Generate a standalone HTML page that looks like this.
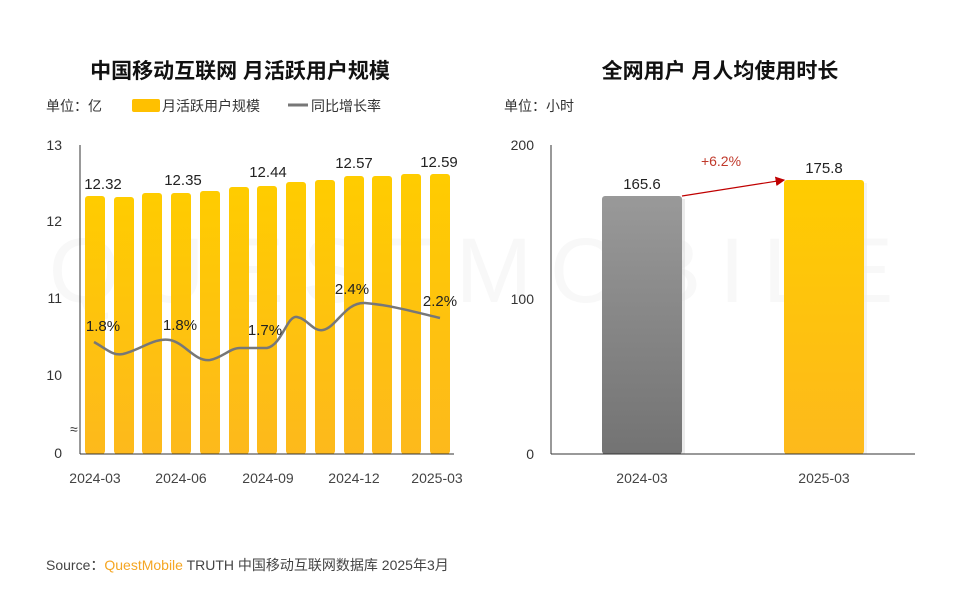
<!DOCTYPE html>
<html><head><meta charset="utf-8"><style>
body{margin:0;background:#fff;}
svg text{font-family:"Liberation Sans","Noto Sans CJK SC",sans-serif;}
</style></head><body>
<svg width="960" height="588" viewBox="0 0 960 588" xmlns="http://www.w3.org/2000/svg">
<defs>
<linearGradient id="yg" x1="0" y1="0" x2="0" y2="1"><stop offset="0" stop-color="#ffcc00"/><stop offset="1" stop-color="#fdb91c"/></linearGradient>
<linearGradient id="gg" x1="0" y1="0" x2="0" y2="1"><stop offset="0" stop-color="#999"/><stop offset="1" stop-color="#737373"/></linearGradient>
<marker id="ar" markerWidth="8" markerHeight="8" refX="7" refY="4" orient="auto"><path d="M0,0 L8,4 L0,8z" fill="#c00000"/></marker>
</defs>
<rect width="960" height="588" fill="#fff"/>
<text x="480" y="302" font-size="92" fill="#f8f8f8" text-anchor="middle" letter-spacing="18">QUESTMOBILE</text>
<text x="240" y="78" font-size="21" font-weight="bold" text-anchor="middle" fill="#111">中国移动互联网 月活跃用户规模</text>
<text x="720" y="78" font-size="21" font-weight="bold" text-anchor="middle" fill="#111">全网用户 月人均使用时长</text>
<text x="46" y="111" font-size="14" fill="#333">单位：亿</text>
<rect x="132" y="99" width="28" height="13" rx="2" fill="#ffc000"/>
<text x="162" y="111" font-size="14" fill="#333">月活跃用户规模</text>
<line x1="288" y1="105" x2="308" y2="105" stroke="#777" stroke-width="3"/>
<text x="311" y="111" font-size="14" fill="#333">同比增长率</text>
<text x="504" y="111" font-size="14" fill="#333">单位：小时</text>
<g font-size="14" fill="#333">
<text x="62" y="150" text-anchor="end">13</text><text x="62" y="226" text-anchor="end">12</text>
<text x="62" y="303" text-anchor="end">11</text><text x="62" y="380" text-anchor="end">10</text>
<text x="62" y="458" text-anchor="end">0</text>
</g>
<text x="70" y="434" font-size="14" fill="#333">≈</text>
<g fill="url(#yg)">
<rect x="85" y="196" width="20" height="258" rx="3"/>
<rect x="114" y="197" width="20" height="257" rx="3"/>
<rect x="142" y="193" width="20" height="261" rx="3"/>
<rect x="171" y="193" width="20" height="261" rx="3"/>
<rect x="200" y="191" width="20" height="263" rx="3"/>
<rect x="229" y="187" width="20" height="267" rx="3"/>
<rect x="257" y="186" width="20" height="268" rx="3"/>
<rect x="286" y="182" width="20" height="272" rx="3"/>
<rect x="315" y="180" width="20" height="274" rx="3"/>
<rect x="344" y="176" width="20" height="278" rx="3"/>
<rect x="372" y="176" width="20" height="278" rx="3"/>
<rect x="401" y="174" width="20" height="280" rx="3"/>
<rect x="430" y="174" width="20" height="280" rx="3"/>
</g>
<line x1="80" y1="145" x2="80" y2="454" stroke="#333"/>
<line x1="80" y1="454" x2="454" y2="454" stroke="#333"/>
<path d="M94,342 C108,350 113,356 123,354 C140,350 155,337 170,340 C185,343 195,362 210,360 C222,358 230,348 240,348 L267,348 C282,345 287,315 297,317 C308,319 313,332 323,330 C337,327 345,302 365,303 C390,305 415,312 440,318" fill="none" stroke="#777" stroke-width="2.5"/>
<g font-size="15" fill="#222" text-anchor="middle">
<text x="103" y="189">12.32</text><text x="183" y="185">12.35</text><text x="268" y="177">12.44</text>
<text x="354" y="168">12.57</text><text x="439" y="167">12.59</text>
<text x="103" y="331">1.8%</text><text x="180" y="330">1.8%</text><text x="265" y="335">1.7%</text>
<text x="352" y="294">2.4%</text><text x="440" y="306">2.2%</text>
</g>
<g font-size="14" fill="#444" text-anchor="middle">
<text x="95" y="483">2024-03</text><text x="181" y="483">2024-06</text><text x="268" y="483">2024-09</text>
<text x="354" y="483">2024-12</text><text x="437" y="483">2025-03</text>
</g>
<g font-size="14" fill="#333">
<text x="534" y="150" text-anchor="end">200</text><text x="534" y="304" text-anchor="end">100</text>
<text x="534" y="459" text-anchor="end">0</text>
</g>
<rect x="605" y="199" width="80" height="255" fill="#ddd" opacity="0.6"/>
<rect x="602" y="196" width="80" height="258" rx="3" fill="url(#gg)"/>
<rect x="787" y="183" width="80" height="271" fill="#eee" opacity="0.7"/>
<rect x="784" y="180" width="80" height="274" rx="3" fill="url(#yg)"/>
<line x1="551" y1="145" x2="551" y2="454" stroke="#333"/>
<line x1="551" y1="454" x2="915" y2="454" stroke="#333"/>
<line x1="682" y1="196" x2="784" y2="180" stroke="#c00000" stroke-width="1.2" marker-end="url(#ar)"/>
<g font-size="15" fill="#222" text-anchor="middle">
<text x="642" y="189">165.6</text><text x="824" y="173">175.8</text>
</g>
<text x="721" y="166" font-size="14" fill="#c0392b" text-anchor="middle">+6.2%</text>
<g font-size="14" fill="#444" text-anchor="middle">
<text x="642" y="483">2024-03</text><text x="824" y="483">2025-03</text>
</g>
<text x="46" y="570" font-size="14" fill="#444">Source：<tspan fill="#f5a623">QuestMobile</tspan> TRUTH 中国移动互联网数据库 2025年3月</text>
</svg>
</body></html>
